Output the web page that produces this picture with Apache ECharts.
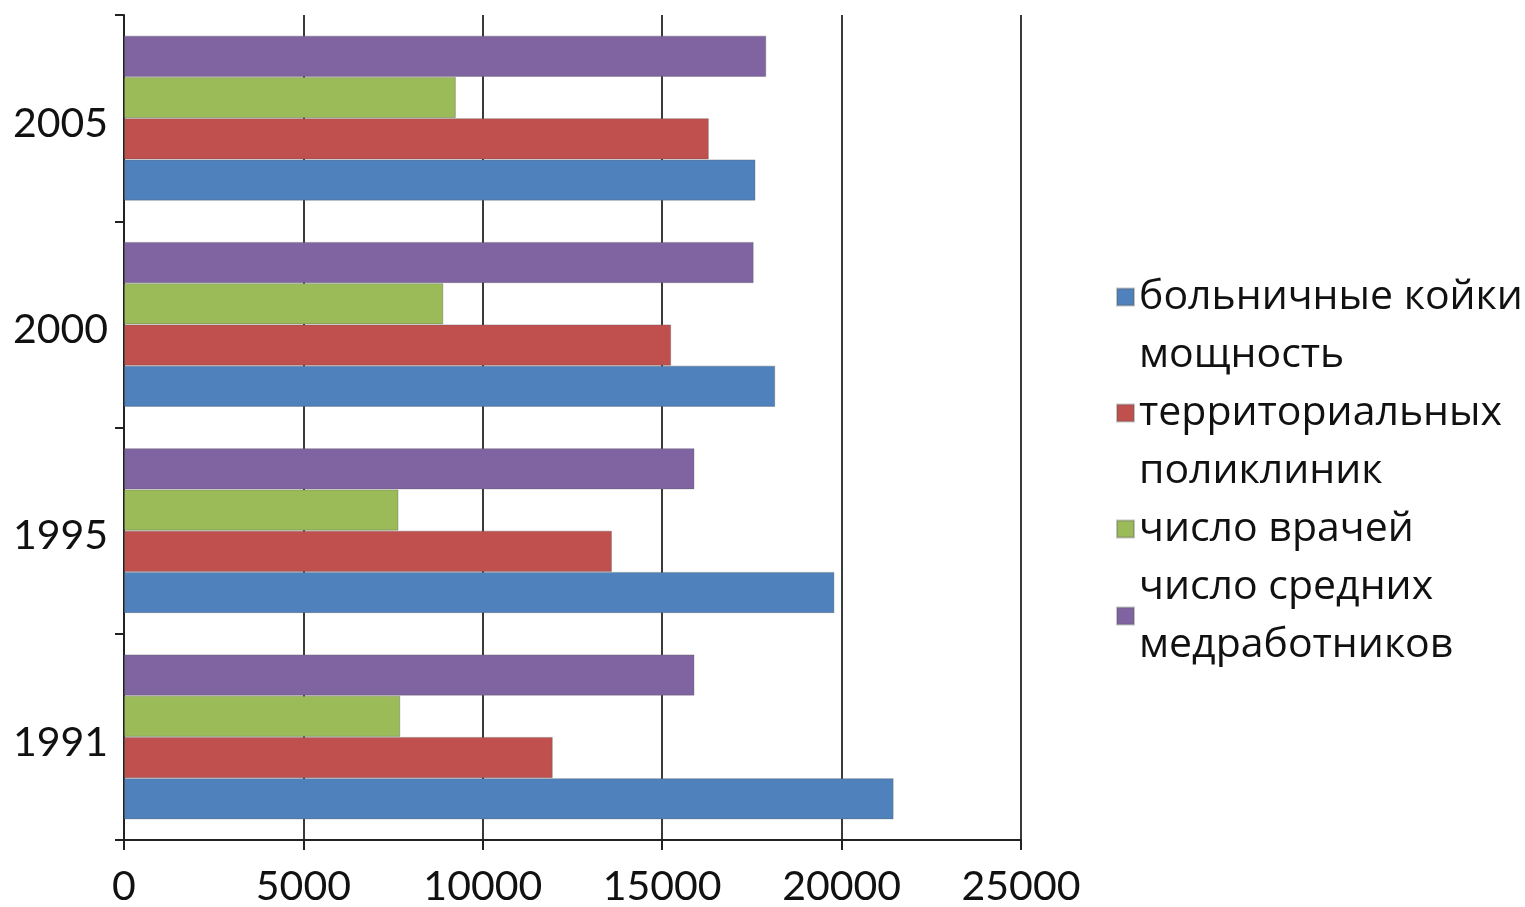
<!DOCTYPE html>
<html>
<head>
<meta charset="utf-8">
<script src="https://cdn.jsdelivr.net/npm/echarts@6/dist/echarts.min.js"></script>
<style>
html,body{margin:0;padding:0;background:#fff;}
#chart{width:1525px;height:907px;}
</style>
</head>
<body>
<div id="chart"></div>
<script>
const categories = ['1991', '1995', '2000', '2005'];
const seriesNames = [
  'больничные койки',
  'мощность\nтерриториальных\nполиклиник',
  'число врачей',
  'число средних\nмедработников'
];
const beds = [21450, 19800, 18150, 17600];
const polyclinics = [11950, 13600, 15250, 16300];
const doctors = [7700, 7650, 8900, 9250];
const nurses = [15900, 15900, 17550, 17900];
const colors = ['#4F81BD', '#C0504D', '#9BBB59', '#8064A2'];
const xTicks = { min: 0, max: 25000, interval: 5000 };

const chart = echarts.init(document.getElementById('chart'));
const values = [beds, polyclinics, doctors, nurses];
// ECharts places grouped horizontal bars top-down; the reference has the first series at the bottom,
// so series are added in reverse order while the legend keeps the original order.
const order = [3, 2, 1, 0];
chart.setOption({
  animation: false,
  backgroundColor: '#ffffff',
  grid: { left: 124, top: 15, width: 897, height: 827, containLabel: false },
  legend: {
    orient: 'vertical',
    left: 1111,
    top: 263,
    itemGap: 0,
    itemWidth: 17,
    itemHeight: 17,
    icon: 'rect',
    data: seriesNames,
    textStyle: { fontFamily: 'Open Sans', fontSize: 41, color: '#111', lineHeight: 58 }
  },
  xAxis: {
    type: 'value',
    min: xTicks.min, max: xTicks.max, interval: xTicks.interval,
    axisLine: { show: true, lineStyle: { color: '#222', width: 2 } },
    axisTick: { show: true, length: 10, lineStyle: { color: '#222', width: 2 } },
    axisLabel: { fontFamily: 'Lato, Open Sans', fontSize: 41, color: '#111', margin: 26,
      formatter: v => String(v) },
    splitLine: { show: true, lineStyle: { color: '#3a3a3a', width: 2 } }
  },
  yAxis: {
    type: 'category',
    data: categories,
    axisLine: { show: true, lineStyle: { color: '#222', width: 2 } },
    axisTick: { show: true, length: 9, lineStyle: { color: '#222', width: 2 } },
    axisLabel: { color: '#111', margin: 16,
      formatter: v => '{y|' + v + '}',
      rich: { y: { fontFamily: 'Lato, Open Sans', fontSize: 41, color: '#111', padding: [11, 0, 0, 0] } } }
  },
  series: order.map(i => ({
    name: seriesNames[i],
    type: 'bar',
    data: values[i],
    barGap: '0%',
    barCategoryGap: '20%',
    itemStyle: { color: colors[i], borderColor: 'rgba(90,90,90,0.35)', borderWidth: 1 }
  }))
});
</script>
</body>
</html>
